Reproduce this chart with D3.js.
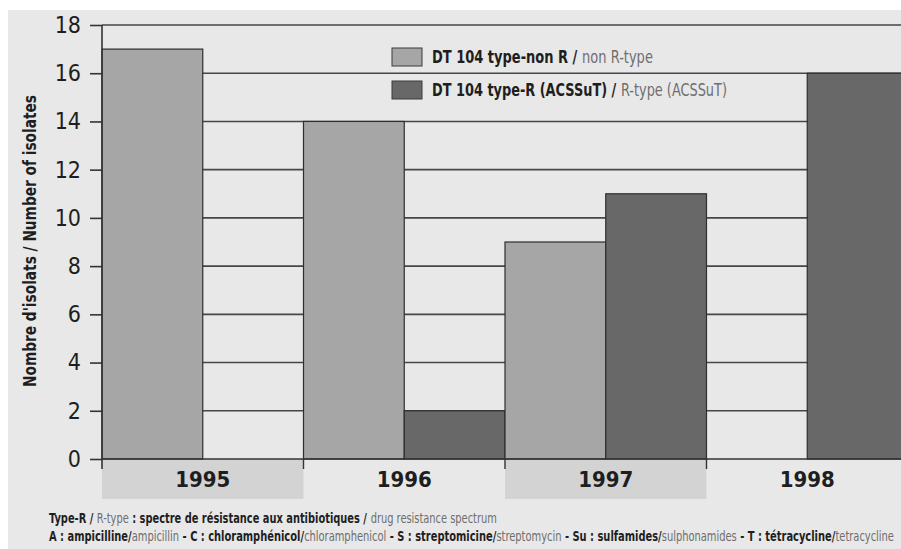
<!DOCTYPE html>
<html>
<head>
<meta charset="utf-8">
<script src="https://cdn.jsdelivr.net/npm/d3@7/dist/d3.min.js"></script>
<style>
  html, body { margin: 0; padding: 0; background: #ffffff; }
  svg { display: block; }
  text { font-family: "Liberation Sans Narrow", "DejaVu Sans Condensed", "Arial Narrow", "Liberation Sans", sans-serif; }
</style>
</head>
<body>
<svg id="chart" width="901" height="549"></svg>
<script>
// Isolates of S. Typhimurium DT 104 per year
const years = ["1995", "1996", "1997", "1998"];
const nonRType = [17, 14, 9, 0];   // DT 104 type-non R
const rType = [0, 2, 11, 16];      // DT 104 type-R (ACSSuT)
const yTicks = [0, 2, 4, 6, 8, 10, 12, 14, 16, 18];
const seriesNames = [
  { fr: "DT 104 type-non R / ", en: "non R-type" },
  { fr: "DT 104 type-R (ACSSuT) / ", en: "R-type (ACSSuT)" }
];
const footLine1 = [
  ["Type-R", true], [" / ", true], ["R-type", false],
  [" : spectre de résistance aux antibiotiques / ", true], ["drug resistance spectrum", false]
];
const footLine2 = [
  ["A : ampicilline/", true], ["ampicillin", false],
  [" - C : chloramphénicol/", true], ["chloramphenicol", false],
  [" - S : streptomicine/", true], ["streptomycin", false],
  [" - Su : sulfamides/", true], ["sulphonamides", false],
  [" - T : tétracycline/", true], ["tetracycline", false]
];

const colLight = "#a6a6a6";
const colDark = "#686868";
const ink = "#1e1e1e";
const grayInk = "#6e6e6e";

const svg = d3.select("#chart");

// panel background
svg.append("rect").attr("x", 8).attr("y", 10).attr("width", 901 - 8).attr("height", 549 - 10)
  .attr("fill", "#e8e8e8");

const x = d3.scaleBand().domain(years).range([102, 908]).paddingInner(0).paddingOuter(0);
const xSub = d3.scaleBand().domain([0, 1]).range([0, x.bandwidth()]);
const y = d3.scaleLinear().domain([0, 18]).range([459, 25]);

// shaded label strips under alternate years
svg.append("g").selectAll("rect").data(years.filter((d, i) => i % 2 === 0)).join("rect")
  .attr("x", d => x(d)).attr("y", y(0)).attr("width", x.bandwidth()).attr("height", 40)
  .attr("fill", "#d3d3d3");

// horizontal grid lines
svg.append("g").selectAll("line").data(yTicks.filter(t => t > 0)).join("line")
  .attr("x1", 102).attr("x2", 908)
  .attr("y1", d => y(d)).attr("y2", d => y(d))
  .attr("stroke", "#464646").attr("stroke-width", 1.6);

// bars
const groups = svg.append("g").selectAll("g").data(years).join("g")
  .attr("transform", d => `translate(${x(d)},0)`);
groups.each(function (yr, i) {
  const vals = [nonRType[i], rType[i]];
  d3.select(this).selectAll("rect").data(vals.map((v, k) => ({ v, k })).filter(o => o.v > 0)).join("rect")
    .attr("x", o => xSub(o.k))
    .attr("y", o => y(o.v))
    .attr("width", xSub.bandwidth())
    .attr("height", o => y(0) - y(o.v))
    .attr("fill", o => o.k === 0 ? colLight : colDark)
    .attr("stroke", "#2e2e2e").attr("stroke-width", 1.2);
});

// y axis
const yAxis = d3.axisLeft(y).tickValues(yTicks).tickSize(12).tickPadding(9);
const gy = svg.append("g").attr("transform", "translate(102,0)").call(yAxis);
gy.select(".domain").attr("stroke", "#333").attr("stroke-width", 1.6).attr("d", `M0,${y(18)}V${y(0) + 10}`);
gy.selectAll(".tick line").attr("stroke", "#333").attr("stroke-width", 1.6);
gy.selectAll(".tick text").attr("font-size", 23).attr("fill", ink)
  .style("font-family", "'Liberation Sans Narrow','DejaVu Sans Condensed',sans-serif");

// x axis baseline and category separators
svg.append("line").attr("x1", 102).attr("x2", 908).attr("y1", y(0)).attr("y2", y(0))
  .attr("stroke", "#333").attr("stroke-width", 1.6);
svg.append("g").selectAll("line").data(years.slice(1)).join("line")
  .attr("x1", d => x(d)).attr("x2", d => x(d))
  .attr("y1", y(0)).attr("y2", y(0) + 10)
  .attr("stroke", "#333").attr("stroke-width", 1.4);

// year labels
svg.append("g").selectAll("text").data(years).join("text")
  .attr("x", d => x(d) + x.bandwidth() / 2).attr("y", 487)
  .attr("text-anchor", "middle").attr("font-size", 22).attr("font-weight", "bold")
  .attr("fill", ink).text(d => d);

// y axis title
svg.append("text")
  .attr("transform", "translate(36,241) rotate(-90)")
  .attr("text-anchor", "middle").attr("font-size", 18).attr("font-weight", "bold")
  .attr("fill", ink)
  .attr("textLength", 292).attr("lengthAdjust", "spacingAndGlyphs")
  .text("Nombre d'isolats / Number of isolates");

// Lay out a run of mixed-style pieces side by side, then squeeze the run
// horizontally so that it spans the given width.
function textRun(parts, x0, baseline, size, width) {
  const g = svg.append("g");
  let cx = 0;
  parts.forEach(([str, bold]) => {
    const t = g.append("text").attr("x", cx).attr("y", 0).attr("font-size", size)
      .attr("fill", bold ? ink : grayInk)
      .attr("font-weight", bold ? "bold" : "normal")
      .style("white-space", "pre")
      .attr("xml:space", "preserve")
      .text(str);
    cx += t.node().getComputedTextLength();
  });
  const k = width / cx;
  g.attr("transform", `translate(${x0},${baseline}) scale(${k},1)`);
}

// legend
const legendRows = [{ y: 48, w: 221 }, { y: 81, w: 295 }];
seriesNames.forEach((s, i) => {
  const r = legendRows[i];
  svg.append("rect").attr("x", 392).attr("y", r.y).attr("width", 30).attr("height", 18)
    .attr("fill", i === 0 ? colLight : colDark).attr("stroke", "#3a3a3a").attr("stroke-width", 1);
  textRun([[s.fr, true], [s.en, false]], 432, r.y + 15, 17, r.w);
});

// footnotes
textRun(footLine1, 49, 523, 13.5, 448);
textRun(footLine2, 49, 541, 13.5, 845);
</script>
</body>
</html>
